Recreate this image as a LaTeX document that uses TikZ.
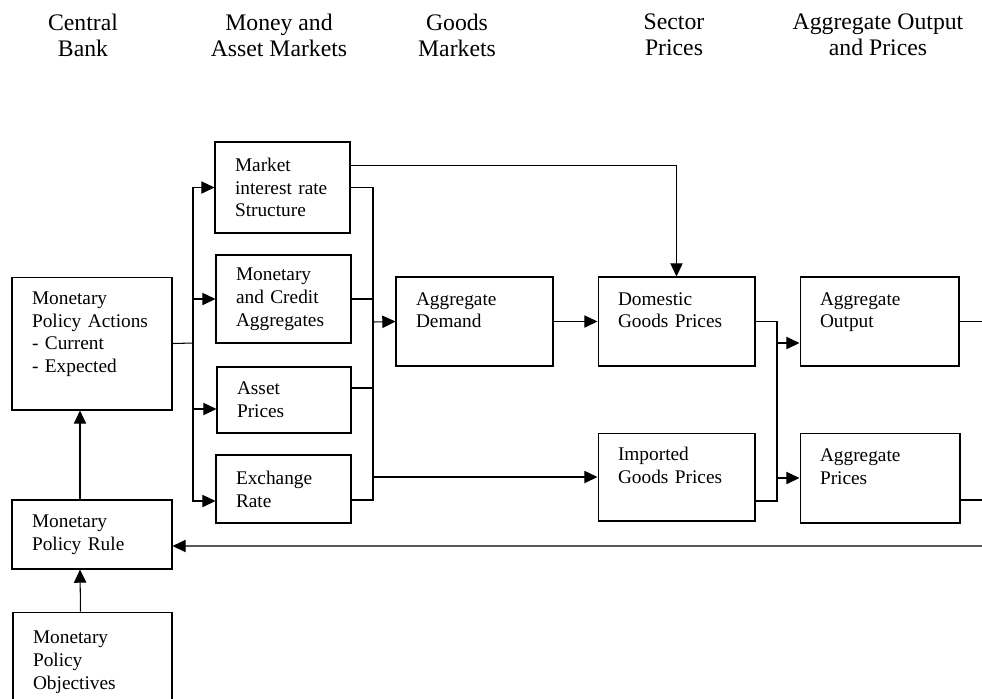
\documentclass[tikz,border=0pt]{standalone}
\usepackage{fontspec}
\setmainfont{Liberation Serif}
\usetikzlibrary{arrows.meta, positioning, calc}

\begin{document}
\begin{tikzpicture}[
    x=0.02cm, y=-0.02cm,
    box/.style={rectangle, draw, line width=0.6pt, align=left,
                inner xsep=0.4cm, inner ysep=0pt,
                font=\fontsize{11}{13}\selectfont},
    head/.style={align=center, font=\fontsize{13.5}{14.7}\selectfont},
    arr/.style={-{Triangle[length=7.5pt,width=7pt]}, line width=0.6pt},
    conn/.style={line width=0.6pt}
  ]
  \useasboundingbox (0,0) rectangle (982,698);

  % column headings
  \node[head] (hbank)   at (83,35)  {Central\\Bank};
  \node[head] (hmoney)  at (279,35) {Money and\\Asset Markets};
  \node[head] (hgoods)  at (457,35) {Goods\\Markets};
  \node[head] (hsector) at (674,35) {Sector\\Prices};
  \node[head] (haggr)   at (878,35) {Aggregate Output\\and Prices};

  % central bank
  \node[box, text width=2.4cm, minimum height=2.66cm] (actions) at (92,343.5)
        {Monetary\\Policy Actions\\- Current\\- Expected\\~};
  \node[box, text width=2.4cm, minimum height=1.38cm] (rule) at (92,534.5)
        {Monetary\\Policy Rule};
  \node[box, text width=2.38cm, minimum height=2cm] (objectives) at (92.5,662)
        {Monetary\\Policy\\Objectives};

  % money and asset markets
  \node[box, text width=1.9cm, minimum height=1.82cm] (rate) at (282.5,187.5)
        {Market\\interest rate\\Structure};
  \node[box, text width=1.9cm, minimum height=1.76cm] (credit) at (283.5,299)
        {Monetary\\and Credit\\Aggregates};
  \node[box, text width=1.88cm, minimum height=1.32cm] (asset) at (284,400)
        {Asset\\Prices};
  \node[box, text width=1.9cm, minimum height=1.36cm] (exchange) at (283.5,489)
        {Exchange\\Rate};

  % goods markets and sector prices
  \node[box, text width=2.34cm, minimum height=1.78cm] (demand) at (474.5,321.5)
        {Aggregate\\Demand\\~};
  \node[box, text width=2.34cm, minimum height=1.78cm] (domestic) at (676.5,321.5)
        {Domestic\\Goods Prices\\~};
  \node[box, text width=2.34cm, minimum height=1.76cm] (imported) at (676.5,477)
        {Imported\\Goods Prices\\~};

  % aggregate output and prices
  \node[box, text width=2.38cm, minimum height=1.78cm] (output) at (879.5,321.5)
        {Aggregate\\Output\\~};
  \node[box, text width=2.4cm, minimum height=1.8cm] (prices) at (880,478)
        {Aggregate\\Prices\\~};

  % branch and merge points
  \coordinate (split) at (193,343);
  \coordinate (merge) at (373,322);
  \coordinate (sect)  at (777,400);
  \coordinate (outend) at (982,321.5);
  \coordinate (priceend) at (982,500);
  \coordinate (feedback) at (982,546);

  \draw[arr] ([xshift=-0.24cm]objectives.north) -- ([xshift=-0.24cm]rule.south);
  \draw[arr] ([xshift=-0.24cm]rule.north) -- ([xshift=-0.24cm]actions.south);

  \draw[conn] (actions.east) -- (split);
  \draw[arr] (split) |- (rate.west);
  \draw[arr] (split) |- (credit.west);
  \draw[arr] (split) |- ($(asset.west)+(0,9)$);
  \draw[arr] (split) |- ($(exchange.west)+(0,12)$);

  \draw[conn] (rate.east) -| (merge);
  \draw[conn] (credit.east) -| (merge);
  \draw[conn] ($(asset.east)+(0,-12)$) -| (merge);
  \draw[conn] ($(exchange.east)+(0,11)$) -| (merge);
  \draw[arr] (merge) -- (demand.west);
  \draw[arr] (merge |- imported.west) -- (imported.west);

  \draw[arr] ($(rate.east)+(0,-22)$) -| (domestic.north);
  \draw[arr] (demand.east) -- (domestic.west);

  \draw[conn] (domestic.east) -| (sect);
  \draw[conn] ($(imported.east)+(0,24)$) -| (sect);
  \draw[arr] (sect |- output.west) ++(0,21.5) -- ($(output.west)+(0,21.5)$);
  \draw[arr] (sect |- prices.west) -- (prices.west);

  \draw[conn] (output.east) -- (outend);
  \draw[conn] ($(prices.east)+(0,22)$) -- (priceend);
  \draw[arr] (feedback) -- ($(rule.east)+(0,11.5)$);
\end{tikzpicture}
\end{document}
